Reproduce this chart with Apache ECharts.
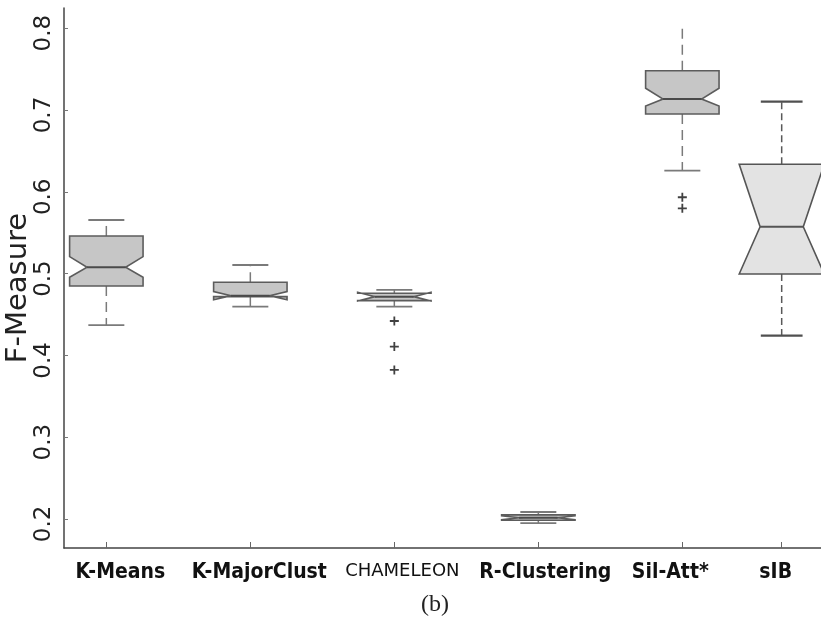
<!DOCTYPE html>
<html>
<head>
<meta charset="utf-8">
<script src="https://cdn.jsdelivr.net/npm/echarts@6/dist/echarts.min.js"></script>
<style>
  html, body { margin: 0; padding: 0; background: #fff; }
  #chart { width: 821px; height: 630px; }
</style>
</head>
<body>
<div id="chart"></div>
<script>
// ---- data: F-Measure distributions per clustering method ----
const categories   = ['K-Means', 'K-MajorClust', 'CHAMELEON', 'R-Clustering', 'Sil-Att*', 'sIB'];
const whiskerLow   = [0.437,  0.4596, 0.4596, 0.1950, 0.6258, 0.4241];
const quartile1    = [0.4848, 0.4718, 0.4669, 0.1985, 0.6951, 0.4995];
const notchLow     = [0.4955, 0.4680, 0.4664, 0.1990, 0.7049, 0.4995];
const medians      = [0.5077, 0.4730, 0.4718, 0.2015, 0.7134, 0.5573];
const notchHigh    = [0.5207, 0.4780, 0.4772, 0.2040, 0.7266, 0.6336];
const quartile3    = [0.5460, 0.4894, 0.4759, 0.2050, 0.7480, 0.6336];
const whiskerHigh  = [0.5655, 0.5105, 0.4800, 0.2085, 0.8000, 0.7102];
const outlierGroup = ['CHAMELEON', 'CHAMELEON', 'CHAMELEON', 'Sil-Att*', 'Sil-Att*'];
const outlierValue = [0.442, 0.4107, 0.3822, 0.5933, 0.5798];
const yTicks       = [0.2, 0.3, 0.4, 0.5, 0.6, 0.7, 0.8];

// ---- layout: where each method sits along the horizontal axis ----
const slot = [1, 2, 3, 4, 5, 5.69];
const labelShift = [14, 9, 8, 7, -12, -6];   // nudges the method names sideways
const upperCap = [true, true, true, true, false, true];

function boxItem(i) {
  return [slot[i], whiskerLow[i], quartile1[i], notchLow[i], medians[i],
          notchHigh[i], quartile3[i], whiskerHigh[i], i];
}

function makeRenderer(style) {
  return function (params, api) {
    const x = api.value(0);
    const idx = api.value(8);
    const unit = api.size([1, 0])[0];
    const cx = api.coord([x, 0])[0];
    const Y = v => api.coord([x, v])[1];
    const hb = unit * style.box, hn = unit * style.notch, hc = unit * style.cap;
    const lo = Y(api.value(1)), q1 = Y(api.value(2)), nLo = Y(api.value(3));
    const md = Y(api.value(4)), nHi = Y(api.value(5)), q3 = Y(api.value(6)), hi = Y(api.value(7));
    const L = cx - hb, R = cx + hb;
    const whiskerStyle = { stroke: style.whisker, lineWidth: 1.5, lineDash: style.dash };
    const capStyle = { stroke: style.capColor, lineWidth: style.capWidth };
    const children = [
      { type: 'line', shape: { x1: cx, y1: q3, x2: cx, y2: hi }, style: whiskerStyle },
      { type: 'line', shape: { x1: cx, y1: q1, x2: cx, y2: lo }, style: whiskerStyle },
      { type: 'line', shape: { x1: cx - hc, y1: lo, x2: cx + hc, y2: lo }, style: capStyle },
      {
        type: 'polygon',
        shape: { points: [
          [L, q1], [L, nLo], [cx - hn, md], [L, nHi], [L, q3],
          [R, q3], [R, nHi], [cx + hn, md], [R, nLo], [R, q1]
        ] },
        style: { fill: style.fill, stroke: style.edge, lineWidth: 1.6, lineJoin: 'miter' }
      },
      { type: 'line', shape: { x1: cx - hn, y1: md, x2: cx + hn, y2: md },
        style: { stroke: style.medianColor, lineWidth: 2 } }
    ];
    if (upperCap[idx]) {
      children.push({ type: 'line', shape: { x1: cx - hc, y1: hi, x2: cx + hc, y2: hi }, style: capStyle });
    }
    return { type: 'group', children };
  };
}

const mainStyle = {
  box: 0.255, notch: 0.134, cap: 0.125,
  fill: '#c6c6c6', edge: '#5c5c5c', medianColor: '#4a4a4a',
  whisker: '#7a7a7a', dash: [10, 6], capColor: '#7a7a7a', capWidth: 1.8
};
const sibStyle = {
  box: 0.295, notch: 0.15, cap: 0.145,
  fill: '#e3e3e3', edge: '#555555', medianColor: '#555555',
  whisker: '#5a5a5a', dash: [7, 4], capColor: '#505050', capWidth: 2.2
};

const mainData = [0, 1, 2, 3, 4].map(boxItem);
const sibData = [5].map(boxItem);
const outlierData = outlierValue.map((v, k) => [slot[categories.indexOf(outlierGroup[k])], v]);

// one rich style per method name (CHAMELEON is set in a lighter, smaller face)
const labelRich = {};
categories.forEach((name, i) => {
  const s = labelShift[i];
  const base = name === 'CHAMELEON'
    ? { fontFamily: 'DejaVu Sans, sans-serif', fontSize: 18, color: '#111' }
    : { fontFamily: 'DejaVu Sans Condensed, Liberation Sans, sans-serif', fontWeight: 'bold', fontSize: 21, color: '#111' };
  base.padding = [0, s < 0 ? -2 * s : 0, 0, s > 0 ? 2 * s : 0];
  labelRich['c' + i] = base;
});

const chart = echarts.init(document.getElementById('chart'), null, { renderer: 'canvas' });

chart.setOption({
  animation: false,
  backgroundColor: '#ffffff',
  grid: { left: 64, right: 0, top: 8, bottom: 82, containLabel: false, outerBoundsMode: 'none' },
  title: {
    text: '(b)', left: 430, top: 588, textAlign: 'center',
    textStyle: { fontFamily: 'Liberation Serif, DejaVu Serif, serif', fontSize: 24, fontWeight: 'normal', color: '#222' }
  },
  xAxis: {
    type: 'value', min: 0.706, max: 5.963,
    splitLine: { show: false },
    axisLine: { onZero: false, lineStyle: { color: '#444', width: 1.5 } },
    axisTick: { inside: true, length: 6, customValues: slot, lineStyle: { color: '#666', width: 1 } },
    axisLabel: {
      customValues: slot, margin: 14, color: '#111',
      formatter: function (v) {
        let best = 0;
        slot.forEach((s, i) => { if (Math.abs(s - v) < Math.abs(slot[best] - v)) best = i; });
        return '{c' + best + '|' + categories[best] + '}';
      },
      rich: labelRich
    }
  },
  yAxis: {
    type: 'value', min: 0.1645, max: 0.8247,
    name: 'F-Measure', nameLocation: 'middle', nameGap: 31, nameMoveOverlap: false,
    nameTextStyle: { fontFamily: 'DejaVu Sans, sans-serif', fontSize: 29, color: '#222', padding: [0, 20, 0, 0] },
    splitLine: { show: false },
    axisLine: { show: true, lineStyle: { color: '#444', width: 1.5 } },
    axisTick: { show: true, inside: true, length: 4, customValues: yTicks, lineStyle: { color: '#777' } },
    axisLabel: {
      customValues: yTicks, rotate: 90, margin: 8, color: '#222',
      fontFamily: 'DejaVu Sans, sans-serif', fontSize: 23, padding: [0, 10, 0, 0],
      formatter: v => v.toFixed(1)
    }
  },
  series: [
    { type: 'custom', renderItem: makeRenderer(mainStyle), data: mainData,
      encode: { x: 0, y: [1, 7] }, clip: false, z: 2 },
    { type: 'custom', renderItem: makeRenderer(sibStyle), data: sibData,
      encode: { x: 0, y: [1, 7] }, clip: false, z: 2 },
    { type: 'scatter', data: outlierData, z: 3,
      symbol: 'path://M4,0H6V4H10V6H6V10H4V6H0V4H4Z', symbolSize: 9,
      itemStyle: { color: '#111' } }
  ]
});
</script>
</body>
</html>
